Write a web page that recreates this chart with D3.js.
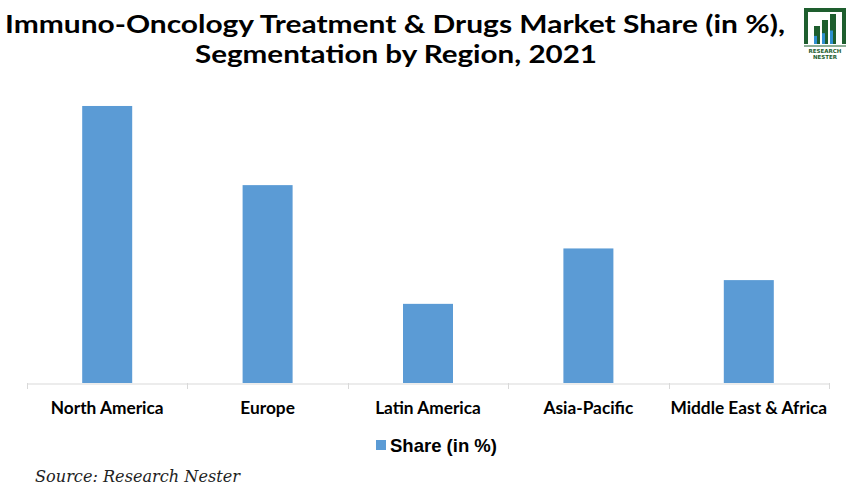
<!DOCTYPE html>
<html><head><meta charset="utf-8">
<script src="https://cdn.jsdelivr.net/npm/d3@7"></script>
<style>body{margin:0;background:#fff}svg{display:block}</style>
</head><body>
<script>
const categories = ["North America","Europe","Latin America","Asia-Pacific","Middle East & Africa"];
const shareValues = [35, 25, 10, 17, 13];
const seriesName = "Share (in %)";
const titleLines = ["Immuno-Oncology Treatment & Drugs Market Share (in %),","Segmentation by Region, 2021"];
const sourceText = "Source: Research Nester";

const W = 850, H = 488;
const svg = d3.select("body").append("svg").attr("width", W).attr("height", H);
svg.append("rect").attr("width", W).attr("height", H).attr("fill", "#fff");

// title
const tFont = "Lato, 'Open Sans', sans-serif";
svg.append("text").attr("x", 395).attr("y", 33).attr("text-anchor","middle")
  .attr("font-family", tFont).attr("font-weight","bold").attr("font-size", 25)
  .attr("textLength", 780).attr("lengthAdjust","spacingAndGlyphs").attr("fill","#000").text(titleLines[0]);
svg.append("text").attr("x", 396).attr("y", 63).attr("text-anchor","middle")
  .attr("font-family", tFont).attr("font-weight","bold").attr("font-size", 25)
  .attr("textLength", 402).attr("lengthAdjust","spacingAndGlyphs").attr("fill","#000").text(titleLines[1]);

// scales
const x = d3.scaleBand().domain(categories).range([27, 829]).paddingInner(0).paddingOuter(0);
const y = d3.scaleLinear().domain([0, 40]).range([383, 66.4]);
const barW = 50;

svg.append("g").selectAll("rect").data(categories).join("rect")
  .attr("x", d => x(d) + x.bandwidth()/2 - barW/2)
  .attr("y", (d,i) => y(shareValues[i]))
  .attr("width", barW)
  .attr("height", (d,i) => y(0) - y(shareValues[i]))
  .attr("fill", "#5B9BD5");

// axis
const axis = d3.axisBottom(x).tickSize(0).tickFormat("");
const gA = svg.append("g").attr("transform", `translate(0,${y(0)+0.5})`).call(axis);
gA.select(".domain").attr("stroke","#D9D9D9").attr("stroke-width",1);
// category boundary ticks
const bounds = categories.map(c => x(c)).concat([x.range()[1]]);
svg.append("g").selectAll("line").data(bounds).join("line")
  .attr("x1", d => Math.round(d)+0.5).attr("x2", d => Math.round(d)+0.5)
  .attr("y1", y(0)).attr("y2", y(0)+6).attr("stroke","#D9D9D9");
svg.append("g").selectAll("text").data(categories).join("text")
  .attr("x", d => x(d) + x.bandwidth()/2).attr("y", 414).attr("text-anchor","middle")
  .attr("font-family", tFont).attr("font-weight","bold").attr("font-size", 17.3).attr("fill","#000")
  .text(d => d);

// legend
const lg = svg.append("g");
lg.append("rect").attr("x", 376).attr("y", 440).attr("width", 10).attr("height", 10).attr("fill","#5B9BD5");
lg.append("text").attr("x", 390).attr("y", 452).attr("font-family","'Liberation Sans', Arial, sans-serif")
  .attr("font-weight","bold").attr("font-size", 18.5).attr("textLength", 107).attr("lengthAdjust","spacingAndGlyphs")
  .attr("fill","#000").text(seriesName);

// source
svg.append("text").attr("x", 35).attr("y", 482).attr("font-family","'DejaVu Serif', Georgia, serif")
  .attr("font-style","italic").attr("font-size", 17).attr("textLength", 205).attr("lengthAdjust","spacingAndGlyphs")
  .attr("fill","#222").text(sourceText);

// logo
const logo = svg.append("g");
logo.append("path").attr("d","M806,44 L806,10 L844,10 L844,44").attr("fill","none").attr("stroke","#1E5E2E").attr("stroke-width",4);
const lb = [[814,26,6,18],[822,20,6,24],[830,14,6,30]];
lb.forEach(b => {
  logo.append("rect").attr("x",b[0]).attr("y",b[1]).attr("width",b[2]).attr("height",b[3]).attr("fill","#1E5E2E");
  logo.append("rect").attr("x",b[0]).attr("y",b[1]+b[3]*0.55).attr("width",b[2]/2).attr("height",b[3]*0.45).attr("fill","#2F8FD0");
});
logo.append("line").attr("x1",804).attr("x2",846).attr("y1",46).attr("y2",46).attr("stroke","#1E5E2E").attr("stroke-width",1);
logo.append("text").attr("x",825).attr("y",53).attr("text-anchor","middle").attr("font-family","'DejaVu Sans'")
  .attr("font-weight","bold").attr("font-size",5.5).attr("fill","#1E5E2E").text("RESEARCH");
logo.append("text").attr("x",825).attr("y",59).attr("text-anchor","middle").attr("font-family","'DejaVu Sans'")
  .attr("font-weight","bold").attr("font-size",5.5).attr("fill","#1E5E2E").text("NESTER");
</script>
</body></html>
